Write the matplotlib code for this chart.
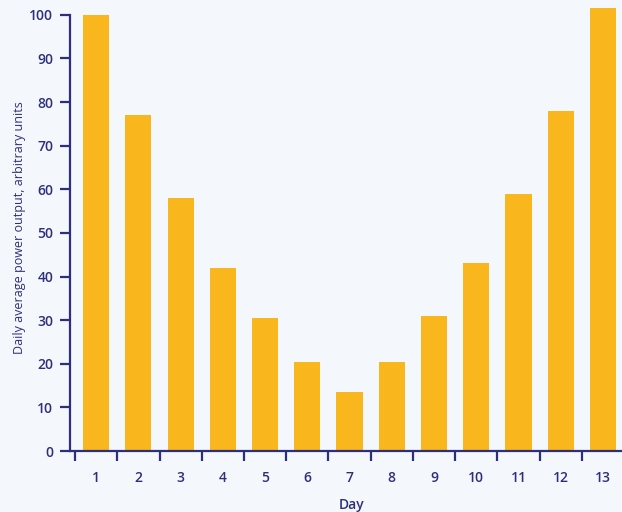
import numpy as np
import matplotlib.pyplot as plt

plt.rcParams['font.family'] = ['Open Sans', 'DejaVu Sans']

days = list(range(1, 14))
power = [100, 77, 58, 42, 30.5, 20.5, 13.5, 20.5, 31, 43, 59, 78, 101.5]

navy = "#2e2f7c"
bar_col = "#f9b61d"
bg = "#f4f8fc"

fig = plt.figure(figsize=(6.22, 5.12), dpi=100, facecolor=bg)
ax = fig.add_axes([0.1125, 0.119, 0.8875, 0.881], facecolor=bg)

ax.bar(days, power, width=0.62, color=bar_col, edgecolor="none")

ax.set_xlim(0.38, 13.45)
ax.set_ylim(0, 103.4)

for s in ["top", "right"]:
    ax.spines[s].set_visible(False)
for s in ["left", "bottom"]:
    ax.spines[s].set_color(navy)
    ax.spines[s].set_linewidth(1.6)
ax.spines["left"].set_bounds(0, 100)

ax.set_yticks(np.arange(0, 101, 10))
ax.set_xticks(days)
ax.set_xticks(np.arange(0.5, 13, 1), minor=True)
ax.tick_params(axis="x", which="major", length=0, pad=14, labelsize=10, labelcolor=navy)
ax.tick_params(axis="x", which="minor", length=7, width=1.6, color=navy)
ax.tick_params(axis="y", length=7, width=1.6, color=navy, labelsize=10, labelcolor=navy, pad=5)
for lab in ax.get_xticklabels() + ax.get_yticklabels():
    lab.set_fontweight("semibold")

fig.text(352 / 622, 1 - 505 / 512, "Day", color=navy, fontsize=10,
         ha="center", va="center", fontweight="semibold")
fig.text(20 / 622, 1 - 228 / 512, "Daily average power output, arbitrary units",
         color=navy, fontsize=9, rotation=90, ha="center", va="center")

fig.savefig("out.png", dpi=100, facecolor=bg)
